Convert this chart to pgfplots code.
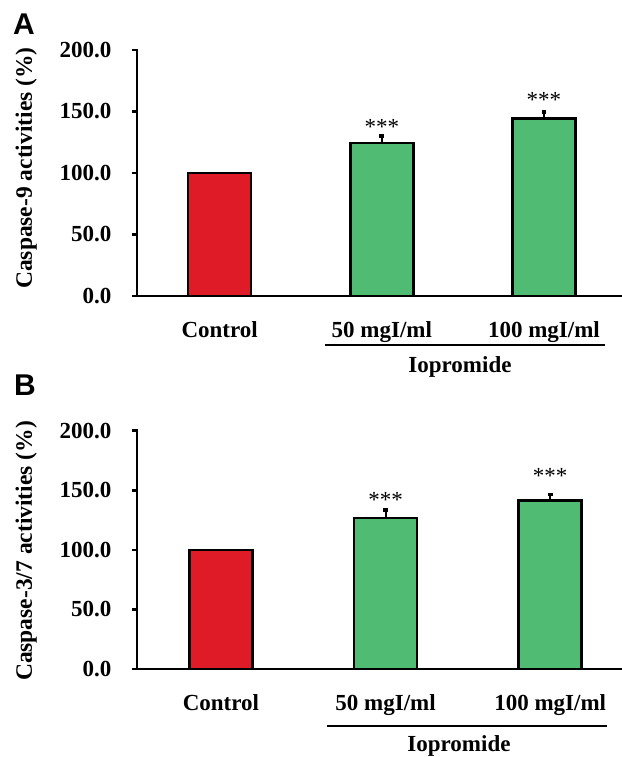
\documentclass[border=0pt]{standalone}
\usepackage{pgfplots}
\pgfplotsset{compat=1.18}
\usepackage{fontspec}
\setmainfont{Liberation Serif}
\newfontfamily\sansfont{Liberation Sans}
\definecolor{barred}{RGB}{222,27,38}
\definecolor{bargreen}{RGB}{79,187,115}
\newcommand{\lbl}{\bfseries\fontsize{23}{23}\selectfont}
\pgfplotsset{
  panel/.style={
    scale only axis, width=484pt,
    ymin=0, ymax=200,
    axis x line*=bottom, axis y line*=left,
    axis line style={line width=2.6pt, -, line cap=rect},
    ytick={0,50,...,200},
    xtick={0,1,2},
    xticklabels={Control,50 mgI/ml,100 mgI/ml},
    x tick style={draw=none},
    y tick style={line width=2.6pt, black},
    tick align=outside, major tick length=5pt,
    yticklabel style={/pgf/number format/fixed, /pgf/number format/fixed zerofill, /pgf/number format/precision=1, /pgf/number format/assume math mode=true},
    yticklabel style={xshift=-17pt},
    xticklabel style={anchor=base, yshift=-36pt},
    tick label style={font=\lbl},
    label style={font=\bfseries\fontsize{23.5}{23.5}\selectfont},
    ybar, bar width=63pt, clip=false,
  },
  errs/.style={error bars/.cd, y dir=plus, y explicit,
    error bar style={line width=2pt, black},
    error mark options={rotate=90, mark size=2.4pt, line width=3.6pt, black}},
}
\begin{document}
\begin{tikzpicture}
\useasboundingbox (0,0) rectangle (621pt,-757pt);
% Panel A
\begin{axis}[panel, at={(137pt,-296pt)}, anchor=south west,
  height=246pt, xmin=-0.51, xmax=2.475,
  ylabel={Caspase-9 activities (\%)},
  ylabel style={at={(axis description cs:-0.229,0.52)}, anchor=center}]
\addplot[fill=barred, draw=black, line width=2.6pt, bar shift=0pt] coordinates {(0,100)};
\addplot[fill=bargreen, draw=black, line width=2.6pt, bar shift=0pt, errs] coordinates {(1,124.5) +- (0,5.6) (2,144.5) +- (0,5.0)};
\node[anchor=base, font=\fontsize{23}{23}\selectfont] at (axis cs:1,131) {***};
\node[anchor=base, font=\fontsize{23}{23}\selectfont] at (axis cs:2,153.5) {***};
\end{axis}
% Panel B
\begin{axis}[panel, at={(137pt,-669pt)}, anchor=south west,
  height=238.3pt, xmin=-0.51, xmax=2.43,
  ylabel={Caspase-3/7 activities (\%)},
  ylabel style={at={(axis description cs:-0.229,0.495)}, anchor=center}]
\addplot[fill=barred, draw=black, line width=2.6pt, bar shift=0pt] coordinates {(0,100)};
\addplot[fill=bargreen, draw=black, line width=2.6pt, bar shift=0pt, errs] coordinates {(1,126.6) +- (0,6.6) (2,141.4) +- (0,5.0)};
\node[anchor=base, font=\fontsize{23}{23}\selectfont] at (axis cs:1,135.5) {***};
\node[anchor=base, font=\fontsize{23}{23}\selectfont] at (axis cs:2,155.5) {***};
\end{axis}
% Iopromide brackets
\draw[line width=1.7pt] (325pt,-345pt) -- (605pt,-345pt);
\node[font=\lbl] at (460pt,-367pt) {Iopromide};
\draw[line width=1.7pt] (327pt,-725.7pt) -- (607pt,-725.7pt);
\node[font=\lbl] at (459pt,-746pt) {Iopromide};
% Panel letters
\node[font=\sansfont\bfseries\fontsize{30}{30}\selectfont] at (24pt,-24pt) {A};
\node[font=\sansfont\bfseries\fontsize{30}{30}\selectfont] at (25pt,-385pt) {B};
\end{tikzpicture}
\end{document}
